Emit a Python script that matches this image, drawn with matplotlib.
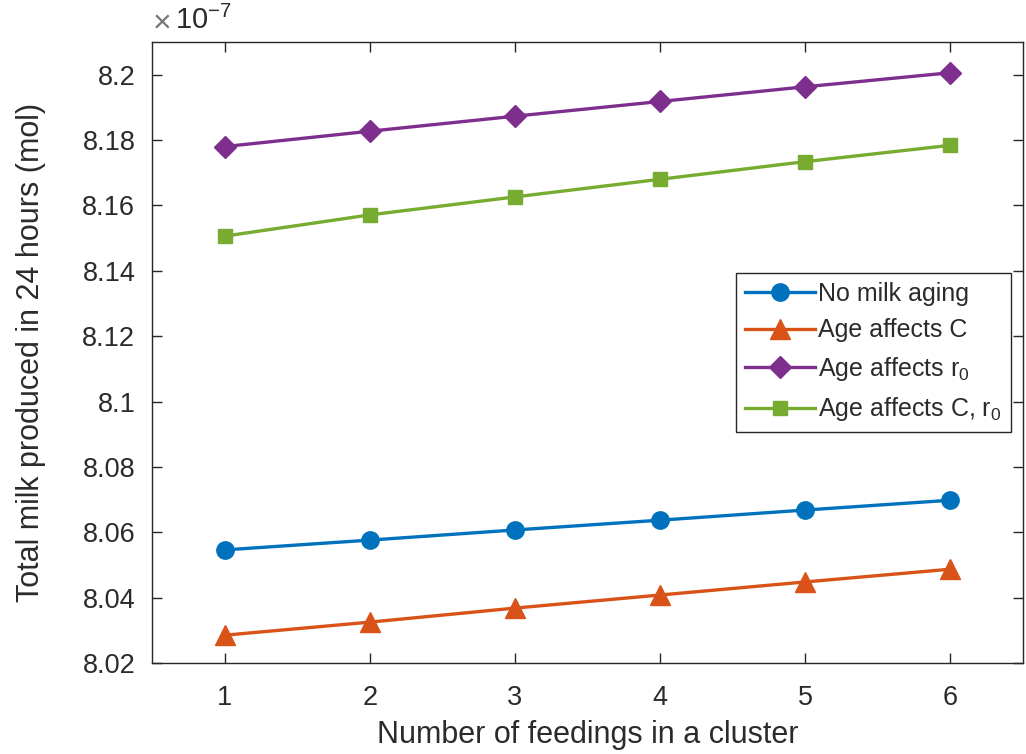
import numpy as np
import matplotlib
matplotlib.use('Agg')
import matplotlib.pyplot as plt

plt.rcParams['font.family'] = ['Liberation Sans', 'DejaVu Sans']
plt.rcParams['mathtext.fontset'] = 'custom'
plt.rcParams['mathtext.rm'] = 'Liberation Sans'
plt.rcParams['mathtext.it'] = 'Liberation Sans'

# feedings per cluster
feedings = [1, 2, 3, 4, 5, 6]

# total milk produced in 24 h, units of 1e-7 mol
no_aging = [8.0546, 8.0576, 8.0607, 8.0637, 8.0668, 8.0698]
age_c = [8.0285, 8.0325, 8.0368, 8.0408, 8.0448, 8.0487]
age_r0 = [8.1780, 8.1827, 8.1873, 8.1918, 8.1963, 8.2006]
age_c_r0 = [8.1506, 8.1571, 8.1626, 8.1680, 8.1734, 8.1784]

labels = ['No milk aging', 'Age affects C', r'Age affects r$_0$', r'Age affects C, r$_0$']
colors = ['#0072BD', '#D95319', '#7E2F8E', '#77AC30']
markers = ['o', '^', 'D', 's']
msizes = [12.5, 14, 11, 9.5]

txt = '#2b2b2b'

fig = plt.figure(figsize=(10.26, 7.54), dpi=100)
ax = fig.add_axes([152 / 1026, 1 - 663 / 754, (1023 - 152) / 1026, (663 - 42) / 754])

x = np.array(feedings)
for ys, lab, c, m, ms in zip([no_aging, age_c, age_r0, age_c_r0], labels, colors, markers, msizes):
    ax.plot(x, np.array(ys) * 1e-7, color=c, marker=m, markersize=ms, lw=2.4, label=lab)

ax.set_xlim(0.5, 6.5)
ax.set_ylim(8.02e-7, 8.21e-7)
ax.set_xticks(feedings)
yt = np.arange(8.02, 8.2001, 0.02)
ax.set_yticks(yt * 1e-7)
ax.set_yticklabels([f'{v:.2f}'.rstrip('0') for v in yt])

edge = '#262626'
for s in ax.spines.values():
    s.set_color(edge)
    s.set_linewidth(1.0)
ax.tick_params(direction='in', length=7, width=1.0, colors=edge, labelcolor=txt,
               labelsize=19.5, top=True, right=True)
ax.tick_params(axis='y', pad=12)
ax.tick_params(axis='x', pad=16)

# exponent multiplier above the y axis
ax.text(0.0, 1.008, r'$\times$', transform=ax.transAxes, fontsize=23,
        color='#777777', ha='left', va='bottom')
ax.text(0.026, 1.012, r'10$^{\mathrm{-7}}$', transform=ax.transAxes, fontsize=21,
        color=txt, ha='left', va='bottom')

ax.set_xlabel('Number of feedings in a cluster', fontsize=22, color=txt, labelpad=6)
ax.set_ylabel('Total milk produced in 24 hours (mol)', fontsize=22, color=txt, labelpad=26)

leg = ax.legend(loc='upper left', bbox_to_anchor=((736 - 152) / (1023 - 152), 1 - (273 - 42) / (663 - 42)),
                fontsize=18, frameon=True, fancybox=False, handlelength=2.8, handletextpad=0.15,
                borderpad=0.35, labelspacing=0.5, borderaxespad=0, framealpha=1)
leg.get_frame().set_edgecolor('#262626')
leg.get_frame().set_linewidth(1.0)
for t in leg.get_texts():
    t.set_color(txt)

fig.savefig('out.png', dpi=100)
